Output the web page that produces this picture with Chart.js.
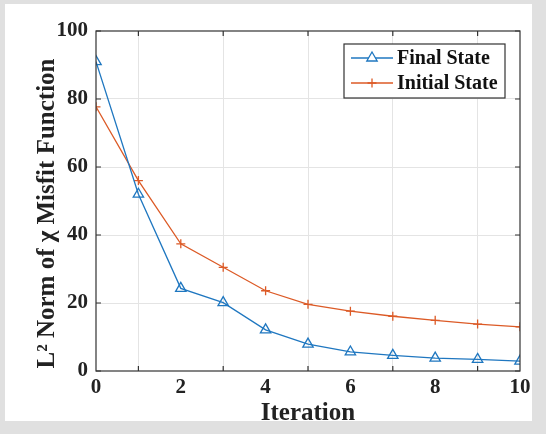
<!DOCTYPE html>
<html>
<head>
<meta charset="utf-8">
<script src="https://cdn.jsdelivr.net/npm/chart.js@4.4.1/dist/chart.umd.min.js"></script>
<style>
  html, body { margin: 0; padding: 0; background: #e0e0e0; }
  #panel { position: absolute; left: 5px; top: 4px; width: 527px; height: 417px; background: #ffffff; }
  #wrap { position: absolute; left: 0; top: 0; width: 546px; height: 434px; }
</style>
</head>
<body>
<div id="panel"></div>
<div id="wrap"><canvas id="myChart" width="546" height="434"></canvas></div>
<script>
// данные
const iterations = [0, 1, 2, 3, 4, 5, 6, 7, 8, 9, 10];
const finalState = [91, 52, 24.3, 20.1, 12.1, 7.9, 5.6, 4.6, 3.8, 3.4, 2.9];
const initialState = [77.7, 56, 37.4, 30.5, 23.6, 19.6, 17.6, 16.1, 14.9, 13.8, 13.0];
const seriesNames = ['Final State', 'Initial State'];
const xTitle = 'Iteration';
// хвостовые пробелы сдвигают подпись вниз, как в оригинале
const yTitle = 'L\u00B2 Norm of \u03C7 Misfit Function    ';

const blue = '#1f77c0';
const orange = '#dc5a26';
const axisColor = '#333333';
const serif = "'Liberation Serif', 'Times New Roman', serif";

function toPoints(values) {
    return iterations.map((x, i) => ({ x: x, y: values[i] }));
}

// рамка осей и внутренние засечки как в MATLAB
const boxPlugin = {
    id: 'box',
    afterDatasetsDraw(chart) {
        const ctx = chart.ctx;
        const area = chart.chartArea;
        const xs = chart.scales.x;
        const ys = chart.scales.y;
        ctx.save();
        ctx.strokeStyle = axisColor;
        ctx.lineWidth = 1.2;
        ctx.strokeRect(area.left, area.top, area.right - area.left, area.bottom - area.top);
        ctx.beginPath();
        xs.ticks.forEach(t => {
            if (t.value % 2 === 1) {
                const px = xs.getPixelForValue(t.value);
                ctx.moveTo(px, area.bottom); ctx.lineTo(px, area.bottom - 5);
                ctx.moveTo(px, area.top); ctx.lineTo(px, area.top + 5);
            }
        });
        ys.ticks.forEach(t => {
            const py = ys.getPixelForValue(t.value);
            ctx.moveTo(area.left, py); ctx.lineTo(area.left + 5, py);
            ctx.moveTo(area.right, py); ctx.lineTo(area.right - 5, py);
        });
        ctx.stroke();
        ctx.restore();
    }
};

// легенда в рамке внутри области графика
const legendPlugin = {
    id: 'boxLegend',
    afterDraw(chart) {
        const ctx = chart.ctx;
        const area = chart.chartArea;
        const boxW = 161, boxH = 54;
        const bx = area.right - 15 - boxW;
        const by = area.top + 13;
        ctx.save();
        ctx.fillStyle = '#ffffff';
        ctx.fillRect(bx, by, boxW, boxH);
        ctx.strokeStyle = axisColor;
        ctx.lineWidth = 1.2;
        ctx.strokeRect(bx, by, boxW, boxH);
        chart.data.datasets.forEach((ds, i) => {
            const cy = by + 14 + i * 25;
            const x0 = bx + 7, x1 = bx + 49;
            ctx.strokeStyle = ds.borderColor;
            ctx.lineWidth = 1.3;
            ctx.beginPath();
            ctx.moveTo(x0, cy); ctx.lineTo(x1, cy);
            ctx.stroke();
            Chart.helpers.drawPoint(ctx, {
                pointStyle: ds.pointStyle,
                radius: ds.pointRadius,
                borderWidth: ds.pointBorderWidth
            }, (x0 + x1) / 2, cy);
            ctx.fillStyle = '#111111';
            ctx.font = 'bold 20px ' + serif;
            ctx.textAlign = 'left';
            ctx.textBaseline = 'middle';
            ctx.fillText(ds.label, x1 + 4, cy + 1);
        });
        ctx.restore();
    }
};

const chart = new Chart(document.getElementById('myChart').getContext('2d'), {
    type: 'line',
    data: {
        datasets: [{
            label: seriesNames[0],
            data: toPoints(finalState),
            borderColor: blue,
            borderWidth: 1.3,
            pointStyle: 'triangle',
            pointRadius: 6,
            pointBorderWidth: 1.3,
            pointBorderColor: blue,
            pointBackgroundColor: 'rgba(0,0,0,0)',
            tension: 0
        }, {
            label: seriesNames[1],
            data: toPoints(initialState),
            borderColor: orange,
            borderWidth: 1.3,
            pointStyle: 'cross',
            pointRadius: 4.5,
            pointBorderWidth: 1.3,
            pointBorderColor: orange,
            pointBackgroundColor: orange,
            tension: 0
        }]
    },
    options: {
        responsive: false,
        animation: false,
        layout: { padding: { left: 20, right: 26, top: 31, bottom: 0 } },
        plugins: {
            legend: { display: false },
            tooltip: { enabled: false }
        },
        scales: {
            x: {
                type: 'linear',
                min: 0,
                max: 10,
                afterFit: scale => { scale.height = 63; },
                ticks: {
                    stepSize: 1,
                    autoSkip: false,
                    maxRotation: 0,
                    padding: 4,
                    color: '#222222',
                    font: { family: serif, size: 21, weight: 'bold' },
                    callback: v => (v % 2 === 0 ? String(v) : '')
                },
                grid: {
                    drawTicks: false,
                    lineWidth: 1,
                    color: ctx => (ctx.tick && ctx.tick.value % 2 === 1 ? '#e4e4e4' : 'rgba(0,0,0,0)')
                },
                border: { display: false },
                title: {
                    display: true,
                    text: xTitle,
                    color: '#222222',
                    font: { family: serif, size: 25, weight: 'bold' },
                    padding: { top: 0, bottom: 5 }
                }
            },
            y: {
                min: 0,
                max: 100,
                afterFit: scale => { scale.width = 76; },
                ticks: {
                    stepSize: 20,
                    padding: 8,
                    color: '#222222',
                    font: { family: serif, size: 21, weight: 'bold' }
                },
                grid: {
                    drawTicks: false,
                    lineWidth: 1,
                    color: ctx => (ctx.tick && ctx.tick.value > 0 && ctx.tick.value < 100 ? '#e4e4e4' : 'rgba(0,0,0,0)')
                },
                border: { display: false },
                title: {
                    display: true,
                    text: yTitle,
                    color: '#222222',
                    font: { family: serif, size: 25, weight: 'bold' },
                    padding: { top: 13, bottom: 0 }
                }
            }
        }
    },
    plugins: [boxPlugin, legendPlugin]
});
</script>
</body>
</html>
